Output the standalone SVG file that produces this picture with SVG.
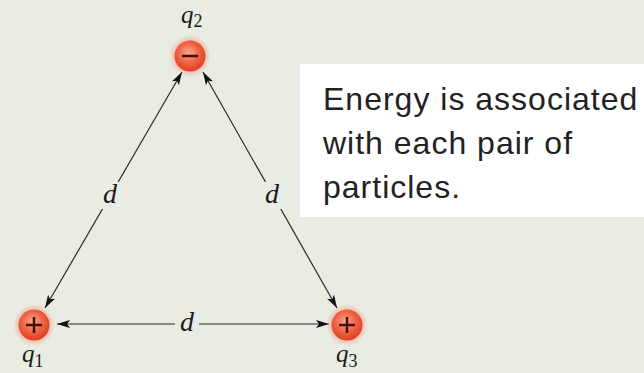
<svg xmlns="http://www.w3.org/2000/svg" width="644" height="373" viewBox="0 0 644 373">
  <defs>
    <style>
      .conn { stroke: #2a2a2a; stroke-width: 1.2; fill: none; marker-start: url(#arr); marker-end: url(#arr); }
      .lbl { font-family: "Liberation Serif", "DejaVu Serif", serif; font-style: italic; fill: #1a1a1a; }
      .q { font-size: 25px; }
      .sub { font-style: normal; font-size: 18px; }
      .note { font-family: "Liberation Sans", Arial, sans-serif; font-size: 32px; letter-spacing: 1px; fill: #222; }
      .knock { fill: #e8ece3; }
      .sign { stroke: #4a0f0a; stroke-width: 2.5; stroke-linecap: butt; }
    </style>
    <marker id="arr" markerUnits="userSpaceOnUse" markerWidth="14" markerHeight="10" refX="13" refY="4" orient="auto-start-reverse" viewBox="0 0 14 8">
      <path d="M0,0 L13,4 L0,8 L3,4 Z" fill="#111"/>
    </marker>
    <radialGradient id="ball" cx="45%" cy="40%" r="60%">
      <stop offset="0" stop-color="#fba892"/>
      <stop offset="0.55" stop-color="#ef6446"/>
      <stop offset="1" stop-color="#de3f24"/>
    </radialGradient>
    <radialGradient id="glow" cx="50%" cy="50%" r="50%">
      <stop offset="0.65" stop-color="#f7a08a" stop-opacity="0.75"/>
      <stop offset="1" stop-color="#f7a08a" stop-opacity="0"/>
    </radialGradient>
  </defs>
  <rect width="644" height="373" fill="#e8ece3"/>

  <g id="note">
    <rect x="300" y="64" width="350" height="153" fill="#ffffff"/>
    <text class="note" x="323" y="110">Energy is associated</text>
    <text class="note" x="323" y="154">with each pair of</text>
    <text class="note" x="323" y="198">particles.</text>
  </g>

  <g id="connectors">
    <line class="conn" x1="45" y1="308" x2="182" y2="72"/>
    <line class="conn" x1="203" y1="72" x2="337" y2="308"/>
    <line class="conn" x1="57" y1="324" x2="329" y2="324"/>
    <rect class="knock" x="99" y="182" width="22" height="27"/>
    <text class="lbl" x="110" y="203" font-size="28" text-anchor="middle">d</text>
    <rect class="knock" x="261" y="182" width="22" height="27"/>
    <text class="lbl" x="272" y="203" font-size="28" text-anchor="middle">d</text>
    <rect class="knock" x="175" y="311" width="24" height="25"/>
    <text class="lbl" x="187" y="331" font-size="28" text-anchor="middle">d</text>
  </g>

  <g id="q2">
    <circle cx="190" cy="56" r="21" fill="url(#glow)"/>
    <circle cx="190" cy="56" r="15.5" fill="url(#ball)"/>
    <line class="sign" x1="182" y1="56" x2="198" y2="56" stroke-width="4"/>
    <text class="lbl q" x="181" y="23">q<tspan class="sub" dy="4">2</tspan></text>
  </g>

  <g id="q1">
    <circle cx="34" cy="325" r="21" fill="url(#glow)"/>
    <circle cx="34" cy="325" r="15.5" fill="url(#ball)"/>
    <line class="sign" x1="26" y1="325" x2="42" y2="325"/>
    <line class="sign" x1="34" y1="317" x2="34" y2="333"/>
    <text class="lbl q" x="22" y="362">q<tspan class="sub" dy="5">1</tspan></text>
  </g>

  <g id="q3">
    <circle cx="347" cy="325" r="21" fill="url(#glow)"/>
    <circle cx="347" cy="325" r="15.5" fill="url(#ball)"/>
    <line class="sign" x1="339" y1="325" x2="355" y2="325"/>
    <line class="sign" x1="347" y1="317" x2="347" y2="333"/>
    <text class="lbl q" x="336" y="362">q<tspan class="sub" dy="5">3</tspan></text>
  </g>
</svg>
